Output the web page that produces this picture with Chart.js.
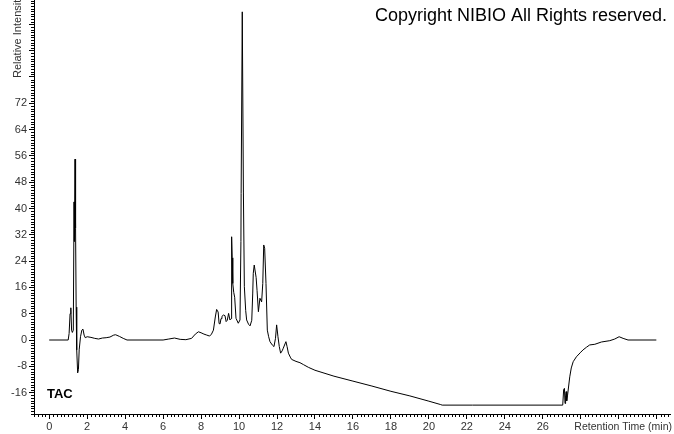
<!DOCTYPE html>
<html>
<head>
<meta charset="utf-8">
<title>TAC chromatogram</title>
<script src="https://cdn.jsdelivr.net/npm/chart.js@4.4.1/dist/chart.umd.min.js"></script>
<style>
    body { margin: 0; background: #fff; }
    #wrap { width: 674px; height: 434px; position: relative; }
</style>
</head>
<body>
<div id="wrap"><canvas id="chart"></canvas></div>
<script>
// retention time (min) and relative intensity
const retentionTimes = [
    0, 1.0, 1.05, 1.1, 1.14, 1.18, 1.22, 1.27, 1.31, 1.33, 1.36, 1.38, 1.40, 1.42, 1.45, 1.50,
    1.54, 1.58, 1.65, 1.72, 1.78, 1.84, 1.9, 2.0, 2.2, 2.4, 2.6, 2.8, 3.0, 3.2, 3.4, 3.5,
    3.7, 3.9, 4.1, 6.0, 6.3, 6.6, 6.9, 7.2, 7.5, 7.7, 7.86, 8.0, 8.15, 8.3, 8.45, 8.55,
    8.65, 8.75, 8.82, 8.9, 8.95, 9.0, 9.05, 9.1, 9.18, 9.26, 9.32, 9.38, 9.45, 9.52, 9.58, 9.61,
    9.64, 9.67, 9.72, 9.77, 9.84, 9.96, 10.05, 10.1, 10.11, 10.17, 10.2, 10.23, 10.28, 10.35, 10.4, 10.5,
    10.58, 10.67, 10.72, 10.75, 10.8, 10.84, 10.9, 10.95, 11.02, 11.1, 11.19, 11.25, 11.3, 11.35, 11.42, 11.49,
    11.56, 11.63, 11.75, 11.84, 11.92, 11.98, 12.05, 12.12, 12.19, 12.27, 12.33, 12.42, 12.47, 12.53, 12.6, 12.7,
    12.77, 13.0, 13.21, 13.4, 13.65, 14.0, 15.0, 16.0, 17.0, 18.0, 19.0, 20.0, 20.6, 20.7, 22.3, 27.05,
    27.1, 27.14, 27.17, 27.2, 27.23, 27.26, 27.3, 27.42, 27.5, 27.6, 27.77, 28.0, 28.12, 28.3, 28.47, 28.74,
    29.09, 29.53, 29.79, 30.02, 30.23, 30.49, 31.98
];
const intensities = [
    0, 0, 2, 8, 9.8, 3, 2.3, 3, 42, 30, 55, 40, 34, 10, -3, -10,
    -9, -3, 1, 3, 3.3, 1.5, 0.7, 1, 0.8, 0.5, 0.3, 0.6, 0.7, 0.9, 1.5, 1.6,
    1.1, 0.5, 0, 0, 0.3, 0.6, 0.2, 0.1, 0.5, 1.8, 2.5, 2.2, 1.8, 1.5, 1.2, 1.8,
    3, 7, 9.3, 8.5, 5, 4.9, 6.5, 7.2, 7.6, 7.4, 5.6, 6, 8.1, 6.1, 6.5, 31.4,
    25, 17.2, 14.5, 13, 6.6, 5.1, 6.1, 30, 44.6, 99.8, 99.8, 45, 16.2, 9, 6.1, 4.8,
    4.3, 6, 14, 20.3, 22.8, 22.8, 19, 15, 8.6, 12.7, 11.6, 17.2, 28.9, 27.9, 17.2, 3.0,
    1.0, -0.5, -1.5, -2, 0.5, 4.6, 1.0, -2, -4, -3.3, -2.5, -1.2, -0.5, -2, -4, -5.2,
    -5.9, -6.5, -6.9, -7.5, -8.3, -9.2, -11, -12.5, -14, -15.6, -17, -18.6, -19.6, -19.8, -19.8, -19.8,
    -15, -14.7, -19.3, -17, -15.7, -18.5, -17, -11.2, -8.5, -6.6, -5.1, -3.7, -3.0, -2.2, -1.5, -1.3,
    -0.6, -0.2, 0.3, 1.0, 0.5, 0, 0
];

const xMin = -0.8, xMax = 32.7;
const yMin = -22.5, yMax = 103.4;
const xLabelMax = 26;   // later labels are covered by the axis title
const yLabelMax = 72;   // higher labels are covered by the axis title

const points = retentionTimes.map((t, i) => ({ x: t, y: intensities[i] }));

function isMultiple(v, step) {
    const r = v / step;
    return Math.abs(r - Math.round(r)) < 1e-6;
}

// minor ticks and the free-floating texts
const extras = {
    id: 'extras',
    afterDraw(chart) {
        const ctx = chart.ctx;
        const xs = chart.scales.x;
        const ys = chart.scales.y;
        const area = chart.chartArea;
        ctx.save();
        ctx.strokeStyle = '#000';
        ctx.lineWidth = 1;
        ctx.beginPath();
        for (let v = -0.8; v <= xMax + 1e-6; v += 0.2) {
            if (isMultiple(v, 2)) continue;
            const px = Math.round(xs.getPixelForValue(v)) + 0.5;
            ctx.moveTo(px, area.bottom);
            ctx.lineTo(px, area.bottom + 3);
        }
        for (let v = -22.4; v <= yMax + 1e-6; v += 0.8) {
            if (isMultiple(v, 8)) continue;
            const py = Math.round(ys.getPixelForValue(v)) + 0.5;
            ctx.moveTo(area.left, py);
            ctx.lineTo(area.left - 3, py);
        }
        ctx.stroke();

        ctx.fillStyle = '#000';
        ctx.font = '18px "Liberation Sans", Arial, sans-serif';
        ctx.textAlign = 'right';
        ctx.textBaseline = 'alphabetic';
        ctx.fillText('Copyright NIBIO All Rights reserved.', 667, 21);

        ctx.font = 'bold 13px "Liberation Sans", Arial, sans-serif';
        ctx.textAlign = 'left';
        ctx.fillText('TAC', 47, 398);

        ctx.fillStyle = '#333';
        ctx.font = '10.5px "Liberation Sans", Arial, sans-serif';
        ctx.textAlign = 'right';
        ctx.textBaseline = 'middle';
        ctx.fillText('Retention Time (min)', 672, 427);

        ctx.font = '11px "Liberation Sans", Arial, sans-serif';
        ctx.translate(18, 78);
        ctx.rotate(-Math.PI / 2);
        ctx.textAlign = 'left';
        ctx.fillText('Relative Intensity', 0, 0);
        ctx.restore();
    }
};

new Chart(document.getElementById('chart'), {
    type: 'line',
    data: {
        datasets: [{
            data: points,
            borderColor: '#000',
            borderWidth: 1,
            pointRadius: 0,
            tension: 0,
            fill: false
        }]
    },
    options: {
        responsive: true,
        maintainAspectRatio: false,
        animation: false,
        layout: { padding: { top: 0, right: 4, left: 0, bottom: 0 } },
        plugins: {
            legend: { display: false },
            tooltip: { enabled: false }
        },
        scales: {
            x: {
                type: 'linear',
                min: xMin,
                max: xMax,
                afterFit(scale) {
                    scale.height = 20;
                    scale.paddingLeft = 0;
                    scale.paddingRight = 0;
                },
                border: { display: true, color: '#000', width: 1 },
                grid: { drawOnChartArea: false, drawTicks: true, tickLength: 5, tickColor: '#000' },
                ticks: {
                    stepSize: 2,
                    includeBounds: false,
                    autoSkip: false,
                    maxRotation: 0,
                    padding: 1,
                    color: '#333',
                    font: { family: '"Liberation Sans", Arial, sans-serif', size: 11 },
                    callback: v => (v >= 0 && v <= xLabelMax) ? String(v) : ''
                }
            },
            y: {
                type: 'linear',
                min: yMin,
                max: yMax,
                afterFit(scale) {
                    scale.width = 34;
                    scale.paddingTop = 0;
                    scale.paddingBottom = 0;
                },
                border: { display: true, color: '#000', width: 1 },
                grid: { drawOnChartArea: false, drawTicks: true, tickLength: 5, tickColor: '#000' },
                ticks: {
                    stepSize: 8,
                    includeBounds: false,
                    autoSkip: false,
                    padding: 2,
                    color: '#333',
                    font: { family: '"Liberation Sans", Arial, sans-serif', size: 11 },
                    callback: v => v <= yLabelMax ? String(v) : ''
                }
            }
        }
    },
    plugins: [extras]
});
</script>
</body>
</html>
